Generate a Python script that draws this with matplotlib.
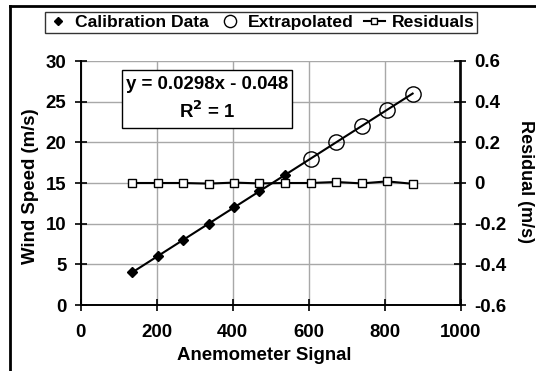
import matplotlib.pyplot as plt
import numpy as np
from matplotlib.lines import Line2D
from matplotlib.patches import Rectangle

plt.rcParams['font.family'] = ['Liberation Sans', 'DejaVu Sans']
plt.rcParams['font.weight'] = 'bold'

# данные калибровки
calib_x = [136, 203, 270, 337, 404, 471, 539]
calib_y = [4, 6, 8, 10, 12, 14, 16]
extra_x = [606, 673, 740, 807, 874]
extra_y = [18, 20, 22, 24, 26]
resid_x = calib_x + extra_x
resid_y = [0.0, 0.0, 0.0, -0.003, 0.002, -0.002, 0.0, 0.0, 0.005, -0.002, 0.008, -0.004]
slope, intercept = 0.0298, -0.048

fig = plt.figure(figsize=(5.36, 3.71), dpi=100)
ax = fig.add_axes([80.5 / 536, 1 - 305 / 371, 380 / 536, 244 / 371])
ax2 = ax.twinx()

# линия тренда
tx = np.array([min(resid_x), max(resid_x)])
ax.plot(tx, slope * tx + intercept, color='black', lw=1.5, zorder=2)
ax.plot(calib_x, calib_y, linestyle='none', marker='D', ms=5,
        color='black', zorder=3, label='Calibration Data')
ax.plot(extra_x, extra_y, linestyle='none', marker='o', ms=11,
        mfc='none', mec='black', mew=1.0, zorder=3, label='Extrapolated')
ax2.plot(resid_x, resid_y, color='black', lw=1.5, marker='s', ms=6,
         mfc='white', mec='black', mew=1.0, label='Residuals')

ax.set_xlim(0, 1000)
ax.set_ylim(0, 30)
ax2.set_ylim(-0.6, 0.6)
ax.set_xticks(range(0, 1001, 200))
ax.set_yticks(range(0, 31, 5))
ax2.set_yticks([-0.6, -0.4, -0.2, 0, 0.2, 0.4, 0.6])
ax2.set_yticklabels(['-0.6', '-0.4', '-0.2', '0', '0.2', '0.4', '0.6'])

ax.grid(True, color='#a8a8a8', lw=1.0)
ax.set_axisbelow(True)
for a in (ax, ax2):
    a.tick_params(direction='inout', length=8, width=1.2, labelsize=13.4, pad=6)
    for s in a.spines.values():
        s.set_linewidth(1.2)
ax.tick_params(axis='x', pad=9.5)
ax.spines['top'].set_visible(False)
ax2.spines['top'].set_visible(False)

ax.set_xlabel('Anemometer Signal', fontsize=13.4, fontweight='bold', va='center')
ax.set_ylabel('Wind Speed (m/s)', fontsize=13.4, fontweight='bold', va='center')
ax2.set_ylabel('Residual (m/s)', fontsize=13, fontweight='bold', rotation=-90, va='center')
ax.xaxis.set_label_coords(0.483, -0.209)
ax.yaxis.set_label_coords(-0.131, 0.486)
ax2.yaxis.set_label_coords(1.170, 0.506)

# подпись уравнения
ax.add_patch(Rectangle((0.109, 0.725), 0.448, 0.238, transform=ax.transAxes,
                       fc='white', ec='black', lw=1.0, zorder=5))
ax.text(0.333, 0.844, 'y = 0.0298x - 0.048\nR$^\\mathbf{2}$ = 1', transform=ax.transAxes,
        ha='center', va='center', fontsize=13.4, fontweight='bold', linespacing=1.45,
        zorder=6)

h1, l1 = ax.get_legend_handles_labels()
h2, l2 = ax2.get_legend_handles_labels()
leg = fig.legend(h1 + h2, l1 + l2, loc='center', bbox_to_anchor=(261 / 536, 1 - 22.5 / 371),
                 ncol=3, fontsize=12.6, frameon=True, fancybox=False, edgecolor='black',
                 handlelength=1.2, handletextpad=0.4, columnspacing=0.6, borderpad=0.15,
                 markerscale=0.8)
leg.get_frame().set_linewidth(1.0)

# рамка области диаграммы (только левая и верхняя стороны видны)
fig.add_artist(Line2D([10 / 536, 10 / 536], [0, 1 - 6 / 371], color='black', lw=2,
                      transform=fig.transFigure))
fig.add_artist(Line2D([10 / 536, 1], [1 - 6 / 371, 1 - 6 / 371], color='black', lw=2,
                      transform=fig.transFigure))

fig.savefig('out.png', dpi=100)
